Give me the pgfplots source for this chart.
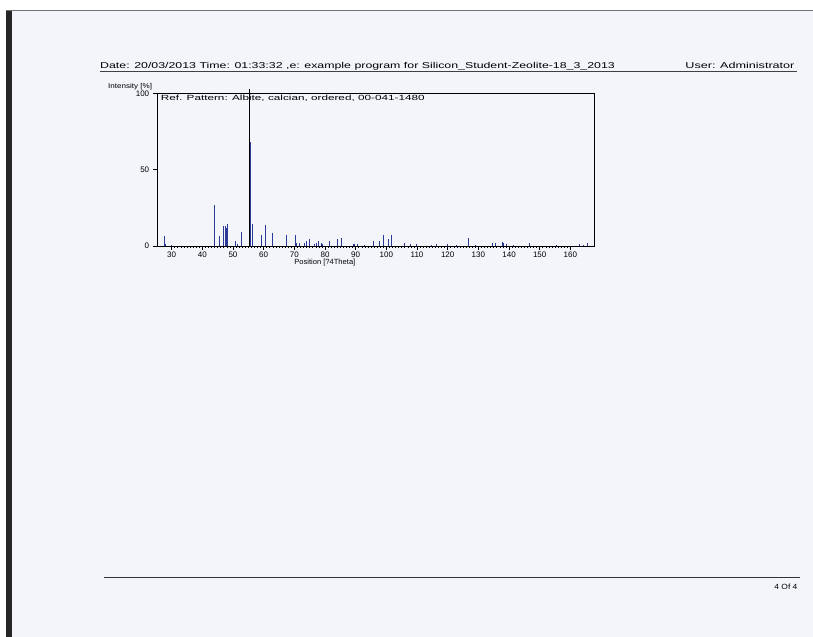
\documentclass[border=0pt]{standalone}
\usepackage{fontspec}
\setmainfont{Liberation Sans}
\usepackage{graphicx}
\usepackage{pgfplots}
\pgfplotsset{compat=1.18}
\definecolor{paper}{RGB}{243,245,251}
\definecolor{barblue}{RGB}{42,58,150}
\newcommand{\stxt}[3]{\resizebox{#1}{\height}{\fontsize{#2}{#2}\selectfont #3}}
\begin{document}
\begin{tikzpicture}[x=1pt,y=1pt]
% page
\fill[white] (0,0) rectangle (813,637);
\fill[paper] (12,0) rectangle (813,627);
\fill[black!85] (6.5,0) rectangle (12,627);
\draw[black!55,line width=0.8pt] (6.5,627) -- (813,627);
% header
\node[anchor=base west,inner sep=0pt] at (100,568) {\stxt{515pt}{8.5}{Date: 20/03/2013 Time: 01:33:32 ,e: example program for Silicon\_Student-Zeolite-18\_3\_2013}};
\node[anchor=base east,inner sep=0pt] at (795,568) {\stxt{109pt}{8.5}{User: Administrator}};
\draw[black!75,line width=0.9pt] (100,565.5) -- (797,565.5);
% footer
\draw[black!80,line width=1pt] (104,59) -- (800,59);
\node[anchor=base east,inner sep=0pt] at (798,47) {\stxt{23pt}{7.5}{4 Of 4}};
% labels
\node[anchor=base west,inner sep=0pt] at (108,548.5) {\stxt{44pt}{7}{Intensity [\%]}};
\node[anchor=base,inner sep=0pt] at (325,372) {\stxt{61pt}{7.5}{Position [?4Theta]}};
\begin{axis}[
  at={(157.3pt,391pt)}, anchor=south west,
  scale only axis, width=437pt, height=152.7pt,
  xmin=25.3, xmax=167.7, ymin=0, ymax=100,
  axis line style={black, line width=0.6pt},
  xtick={30,40,...,160}, ytick={0,50,100},
  minor x tick num=9,
  tick align=outside, xtick pos=bottom, ytick pos=left,
  major tick length=4pt, minor tick length=2pt,
  every tick/.style={black, line width=0.6pt},
  minor tick style={black, line width=0.6pt},
  ticklabel style={font=\fontsize{8}{9}\selectfont},
  /pgf/number format/assume math mode=true,
  x tick label style={yshift=1.5pt},
  y tick label style={xshift=-0.5pt},
  clip=false,
]
\addplot[ycomb, barblue, line width=0.9pt, no markers] coordinates {
(27.5,6.3)(27.9,1.2)(29.8,0.6)
(43.8,27)(45.7,6.5)(46.9,13.3)(47.4,13)(47.8,12)(48.2,14.4)
(50.7,3.3)(51.4,1)(52.7,9.2)(55.6,68)(56.5,14.4)
(59.2,7.2)(60.5,13.5)(62.8,8.3)(67.5,7.2)(70.3,7.2)(70.8,2)(71.6,2)
(73.3,2)(73.8,3)(75.0,4.4)(76.5,1.5)(77.1,2)(77.9,3)(78.9,2)(79.3,1.5)
(81.4,3)(83.9,1.5)(84.2,4.4)(85.4,5.2)(89.3,1.3)(89.7,1.3)(90.5,1)
(93.0,0.7)(95.8,3)(97.6,3)(98.9,7)(100.6,4.4)(101.6,7)(105.8,1.7)
(107.7,1)(109.8,1)(114.7,0.9)(116.3,1)(119.8,1)(122.9,0.9)(126.7,5)
(129.2,0.9)(134.5,2)(135.7,2)(137.7,2.6)(138.1,1.7)(139.0,1)(141.4,0.9)
(146.7,2)(155.4,0.9)(163.0,1)(164.2,0.8)(165.5,2)
};
\addplot[black, line width=0.7pt, no markers] coordinates {(55.45,0)(55.45,103)};
\node[anchor=base west,inner sep=0pt] at (axis cs:26.4,95.5) {\stxt{264pt}{7.5}{Ref. Pattern: Albite, calcian, ordered, 00-041-1480}};
\end{axis}
\end{tikzpicture}
\end{document}
